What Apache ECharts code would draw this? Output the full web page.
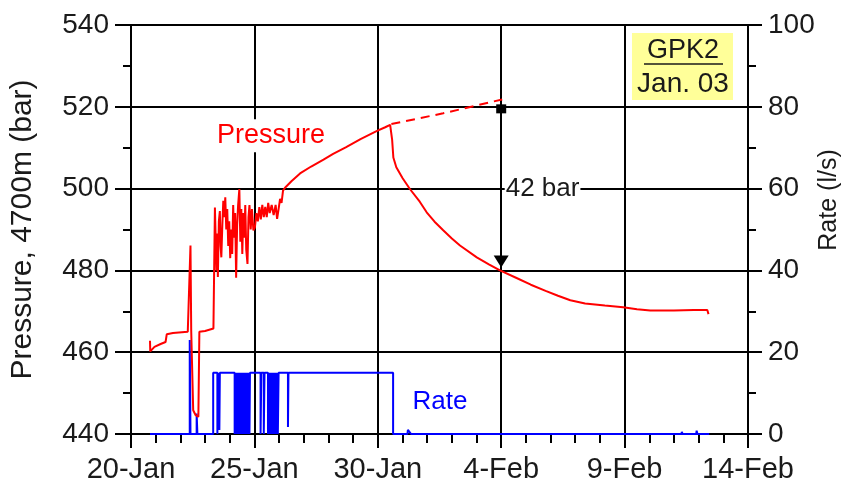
<!DOCTYPE html>
<html><head><meta charset="utf-8">
<script src="https://cdn.jsdelivr.net/npm/echarts@6/dist/echarts.min.js"></script>
<style>html,body{margin:0;padding:0;background:#fff}#c{width:846px;height:489px}</style>
</head><body><div id="c"></div>
<script>
// x values are days after 20-Jan
const tickLabels = ['20-Jan', '25-Jan', '30-Jan', '4-Feb', '9-Feb', '14-Feb'];

const pressurePoints = [
  [0.77, 462.8], [0.78, 460.2], [0.95, 461.3], [1.2, 462.0], [1.4, 462.5], [1.45, 464.4],
  [1.7, 464.7], [2.3, 465.0], [2.37, 465.3], [2.41, 486.1], [2.44, 465.2], [2.48, 465.0],
  [2.52, 445.8], [2.62, 444.6], [2.73, 444.2], [2.77, 465.0], [3.0, 465.2], [3.34, 465.8],
  [3.40, 495.4], [3.43, 488], [3.46, 480], [3.49, 489], [3.52, 478.4], [3.56, 492],
  [3.60, 494.5], [3.63, 486], [3.66, 483.2], [3.70, 491], [3.74, 497], [3.78, 493],
  [3.82, 497.9], [3.86, 490], [3.90, 495], [3.94, 486], [3.98, 492], [4.02, 483],
  [4.06, 490], [4.10, 484], [4.14, 496], [4.18, 488], [4.22, 494], [4.26, 478.2],
  [4.30, 491], [4.34, 496], [4.39, 499.9], [4.43, 487], [4.47, 495], [4.51, 484],
  [4.55, 494], [4.59, 488], [4.63, 496], [4.67, 485], [4.72, 481.6], [4.76, 493],
  [4.80, 496], [4.85, 490], [4.90, 495], [4.96, 489.8], [5.02, 490.5], [5.08, 494],
  [5.14, 492], [5.20, 495.5], [5.26, 492.5], [5.32, 496], [5.38, 493], [5.44, 495.5],
  [5.50, 493], [5.56, 496.5], [5.62, 494], [5.70, 496], [5.78, 493.5], [5.86, 496],
  [5.92, 492.6], [5.98, 495], [6.04, 497.5], [6.10, 496.5], [6.16, 499.5], [6.24, 500.2],
  [6.5, 501.8], [6.85, 503.7], [7.3, 505.4], [7.8, 507.1], [8.19, 508.5], [8.7, 510.1],
  [9.3, 512.1], [9.97, 514.1], [10.3, 515.0], [10.5, 515.6], [10.55, 515.8], [10.58, 512],
  [10.63, 507.6], [10.75, 505.2], [11.0, 502.6], [11.30, 499.9], [11.7, 496.8],
  [11.98, 494.2], [12.3, 491.9], [12.65, 489.8], [13.0, 487.8], [13.33, 486.1],
  [14.01, 483.2], [14.5, 481.5], [14.95, 480.0], [15.6, 478.2], [16.2, 476.5],
  [16.8, 475.0], [17.3, 473.8], [17.8, 472.7], [18.4, 471.9], [19.2, 471.4],
  [19.94, 471.0], [20.5, 470.5], [21.04, 470.2], [22.0, 470.2], [22.8, 470.3],
  [23.35, 470.3], [23.40, 469.3]
];

const extrapolationPoints = [[10.55, 515.8], [12.65, 518.4], [15.04, 521.8]];

const ratePoints = [
  [0.77, 0], [2.38, 0], [2.38, 23], [2.41, 23], [2.41, 0], [2.66, 0], [2.66, 5], [2.69, 5],
  [2.69, 0], [3.33, 0], [3.33, 15], [3.50, 15], [3.50, 0], [3.53, 0], [3.53, 15],
  [3.58, 15], [3.58, 1], [3.60, 1], [3.60, 15], [4.20, 15],
  [4.20, 0], [4.23, 0], [4.23, 15], [4.24, 15], [4.24, 0], [4.27, 0], [4.27, 15], [4.28, 15],
  [4.28, 0], [4.31, 0], [4.31, 15], [4.32, 15], [4.32, 0], [4.35, 0], [4.35, 15], [4.36, 15],
  [4.36, 0], [4.39, 0], [4.39, 15], [4.40, 15], [4.40, 0], [4.43, 0], [4.43, 15], [4.44, 15],
  [4.44, 0], [4.47, 0], [4.47, 15], [4.48, 15], [4.48, 0], [4.51, 0], [4.51, 15], [4.52, 15],
  [4.52, 0], [4.55, 0], [4.55, 15], [4.56, 15], [4.56, 0], [4.59, 0], [4.59, 15], [4.60, 15],
  [4.60, 0], [4.63, 0], [4.63, 15], [4.64, 15], [4.64, 0], [4.67, 0], [4.67, 15], [4.68, 15],
  [4.68, 0], [4.71, 0], [4.71, 15], [4.72, 15], [4.72, 0], [4.75, 0], [4.75, 15], [4.76, 15],
  [4.76, 0], [4.79, 0], [4.79, 15], [4.80, 15], [4.80, 0], [4.82, 0], [4.82, 15],
  [5.25, 15], [5.25, 0], [5.28, 0], [5.28, 15], [5.38, 15], [5.38, 0], [5.41, 0], [5.41, 15],
  [5.55, 15], [5.55, 0], [5.58, 0], [5.58, 15], [5.59, 15], [5.59, 0], [5.62, 0], [5.62, 15],
  [5.63, 15], [5.63, 0], [5.66, 0], [5.66, 15], [5.67, 15], [5.67, 0], [5.70, 0], [5.70, 15],
  [5.71, 15], [5.71, 0], [5.74, 0], [5.74, 15], [5.75, 15], [5.75, 0], [5.78, 0], [5.78, 15],
  [5.79, 15], [5.79, 0], [5.82, 0], [5.82, 15], [5.83, 15], [5.83, 0], [5.86, 0], [5.86, 15],
  [5.87, 15], [5.87, 0], [5.90, 0], [5.90, 15], [5.91, 15], [5.91, 0], [5.94, 0], [5.94, 15],
  [5.95, 15], [5.95, 0], [5.98, 0], [5.98, 15],
  [6.36, 15], [6.36, 1.7], [6.38, 1.7], [6.38, 15], [10.62, 15], [10.62, 0], [11.2, 0],
  [11.22, 1.0], [11.3, 0.8], [11.35, 0], [22.3, 0], [22.32, 0.5], [22.35, 0], [22.9, 0],
  [22.92, 0.8], [22.95, 0], [23.43, 0]
];

const FONT = 'Liberation Sans, Arial, sans-serif';
const INK = '#1a1a1a';
const chart = echarts.init(document.getElementById('c'), null, {renderer: 'canvas'});

const invisible = {color: 'rgba(0,0,0,0)'};
chart.setOption({
  animation: false,
  backgroundColor: '#fff',
  grid: {left: 131, right: 98, top: 25, bottom: 55, containLabel: false},
  xAxis: {
    type: 'value', min: 0, max: 25, interval: 5,
    axisLine: {show: true, onZero: false, lineStyle: {color: '#000', width: 2}},
    axisTick: {show: true, length: 14, lineStyle: {color: '#000', width: 2}},
    minorTick: {show: true, splitNumber: 5, length: 9, lineStyle: {color: '#000', width: 2}},
    splitLine: {show: true, lineStyle: {color: '#000', width: 2}},
    axisLabel: {
      formatter: v => tickLabels[Math.round(v / 5)], fontSize: 29, fontFamily: FONT,
      color: INK, margin: 21, showMinLabel: true, showMaxLabel: true, hideOverlap: false
    }
  },
  yAxis: [{
    type: 'value', min: 440, max: 540, interval: 20, position: 'left',
    axisLine: {show: true, onZero: false, lineStyle: {color: '#000', width: 2}},
    axisTick: {show: true, length: 16, lineStyle: {color: '#000', width: 2}},
    minorTick: {show: true, splitNumber: 2, length: 8, lineStyle: {color: '#000', width: 2}},
    splitLine: {show: true, lineStyle: {color: '#000', width: 2}},
    axisLabel: {fontSize: 28, fontFamily: FONT, color: INK, margin: 22,
      showMinLabel: true, showMaxLabel: true}
  }, {
    type: 'value', min: 0, max: 100, interval: 20, position: 'right',
    axisLine: {show: true, onZero: false, lineStyle: {color: '#000', width: 2}},
    axisTick: {show: true, length: 14, lineStyle: {color: '#000', width: 2}},
    minorTick: {show: true, splitNumber: 2, length: 8, lineStyle: {color: '#000', width: 2}},
    splitLine: {show: false},
    axisLabel: {fontSize: 28, fontFamily: FONT, color: INK, margin: 20,
      showMinLabel: true, showMaxLabel: true}
  }],
  series: [{
    name: 'Rate', type: 'line', yAxisIndex: 1, data: ratePoints, showSymbol: false,
    lineStyle: {color: '#0000ff', width: 2}, itemStyle: {color: '#0000ff'}, z: 3,
    markPoint: {
      symbol: 'circle', symbolSize: 1, itemStyle: invisible,
      data: [{coord: [12.52, 7.8], label: {show: true, formatter: 'Rate', position: 'inside',
        color: '#0000ff', fontSize: 26, fontFamily: FONT}}]
    }
  }, {
    name: 'Pressure', type: 'line', yAxisIndex: 0, data: pressurePoints, showSymbol: false,
    lineStyle: {color: '#ff0000', width: 2}, itemStyle: {color: '#ff0000'}, z: 4,
    markPoint: {
      data: [
        {coord: [5.67, 512.9], symbol: 'circle', symbolSize: 1, itemStyle: invisible,
          label: {show: true, formatter: 'Pressure', position: 'inside', color: '#ff0000',
            fontSize: 27, fontFamily: FONT, backgroundColor: '#fff', padding: [3, 3]}},
        {coord: [15, 500], symbol: 'circle', symbolSize: 1, itemStyle: invisible,
          label: {show: true, formatter: '42 bar', position: 'right', distance: 3, color: INK,
            fontSize: 26, fontFamily: FONT, backgroundColor: '#fff', padding: [2, 1]}},
        {coord: [15, 519.5], symbol: 'rect', symbolSize: [10, 9], itemStyle: {color: '#000'},
          label: {show: false}},
        {coord: [15, 482.2], symbol: 'triangle', symbolRotate: 180, symbolSize: [15, 12],
          itemStyle: {color: '#000'}, label: {show: false}}
      ]
    }
  }, {
    name: 'Extrapolation', type: 'line', yAxisIndex: 0, data: extrapolationPoints,
    showSymbol: false, lineStyle: {color: '#ff0000', width: 2, type: [9, 6]}, z: 4
  }],
  graphic: [
    {type: 'text', x: 23, y: 229.5, rotation: Math.PI / 2,
      style: {text: 'Pressure, 4700m (bar)', fill: INK, font: '30px ' + FONT,
        textAlign: 'center', textVerticalAlign: 'middle'}},
    {type: 'text', x: 829, y: 200, rotation: Math.PI / 2,
      style: {text: 'Rate (l/s)', fill: INK, font: '25px ' + FONT,
        textAlign: 'center', textVerticalAlign: 'middle'}},
    {type: 'rect', shape: {x: 632, y: 33, width: 101, height: 67},
      style: {fill: '#ffff99'}, z: 10},
    {type: 'text', x: 683, y: 51, z: 11,
      style: {text: 'GPK2', fill: INK, font: '27px ' + FONT,
        textAlign: 'center', textVerticalAlign: 'middle'}},
    {type: 'line', shape: {x1: 644, y1: 64, x2: 723, y2: 64}, z: 11,
      style: {stroke: INK, lineWidth: 1.5}},
    {type: 'text', x: 683, y: 84, z: 11,
      style: {text: 'Jan. 03', fill: INK, font: '28px ' + FONT,
        textAlign: 'center', textVerticalAlign: 'middle'}}
  ]
});
</script>
</body></html>
